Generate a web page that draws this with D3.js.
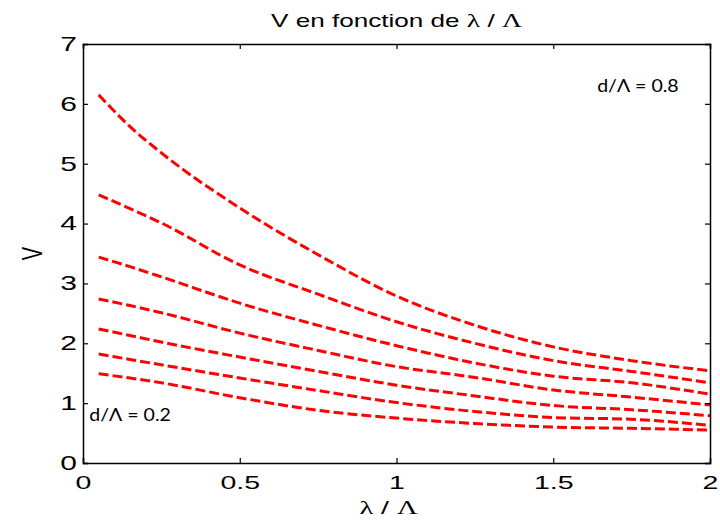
<!DOCTYPE html>
<html lang="en">
<head>
    <meta charset="UTF-8">
    <title>V en fonction de lambda / Lambda</title>
    <script src="https://cdnjs.cloudflare.com/ajax/libs/d3/7.8.5/d3.min.js"></script>
    <style>
        body { margin: 0; background: #fff; }
        svg { display: block; }
        .lbl { font-family: "Liberation Sans", Arial, sans-serif; fill: #000; }
        .greek { font-family: "Liberation Serif", "DejaVu Serif", serif; }
        .note { font-family: Lato, "Open Sans", sans-serif; fill: #000; }
    </style>
</head>
<body>
<svg width="720" height="522"></svg>

<script>
    // lambda / Lambda sample positions
    const lambdaRatio = [0.05, 0.15, 0.25, 0.5, 0.75, 1.0, 1.25, 1.5, 1.75, 2.0];

    // one curve per d/Lambda, top to bottom (0.8 ... 0.2)
    const dRatio = [0.8, 0.7, 0.6, 0.5, 0.4, 0.3, 0.2];
    const v08 = [6.15, 5.62, 5.18, 4.26, 3.48, 2.79, 2.30, 1.94, 1.71, 1.54];
    const v07 = [4.48, 4.25, 4.01, 3.31, 2.82, 2.36, 2.00, 1.71, 1.53, 1.34];
    const v06 = [3.44, 3.28, 3.11, 2.67, 2.30, 1.96, 1.67, 1.45, 1.34, 1.15];
    const v05 = [2.74, 2.63, 2.51, 2.17, 1.88, 1.61, 1.43, 1.22, 1.10, 0.97];
    const v04 = [2.24, 2.13, 2.02, 1.77, 1.53, 1.30, 1.12, 0.96, 0.89, 0.79];
    const v03 = [1.82, 1.73, 1.64, 1.42, 1.21, 1.01, 0.86, 0.76, 0.73, 0.63];
    const v02 = [1.49, 1.42, 1.34, 1.09, 0.88, 0.75, 0.66, 0.60, 0.58, 0.55];
    const curves = [v08, v07, v06, v05, v04, v03, v02];

    const xTicks = [0, 0.5, 1, 1.5, 2];
    const yTicks = [0, 1, 2, 3, 4, 5, 6, 7];

    // text labels placed in data units
    const noteTexts = ["d/\u039B = 0.8", "d/\u039B = 0.2"];
    const noteX = [1.64, 0.02];
    const noteY = [6.2, 0.7];

    const W = 720, H = 522;
    const margin = {top: 44, right: 10, bottom: 59, left: 83};
    const iw = W - margin.left - margin.right;
    const ih = H - margin.top - margin.bottom;
    const sx = 1.5; // the original text is stretched sideways

    const svg = d3.select("svg");
    const g = svg.append("g").attr("transform", `translate(${margin.left},${margin.top})`);

    const x = d3.scaleLinear().domain([0, 2]).range([0, iw]);
    const y = d3.scaleLinear().domain([0, 7]).range([ih, 0]);

    // curves
    const line = d3.line()
        .x((d, i) => x(lambdaRatio[i]))
        .y(d => y(d))
        .curve(d3.curveMonotoneX);

    g.append("g").selectAll("path")
        .data(curves)
        .enter()
        .append("path")
        .attr("d", d => line(d))
        .attr("fill", "none")
        .attr("stroke", "#ff0000")
        .attr("stroke-width", 3)
        .attr("stroke-dasharray", "10,4");

    // axes, inward ticks on all four sides
    function styleAxis(sel) {
        sel.select(".domain").attr("stroke", "#000").attr("stroke-width", 1.5);
        sel.selectAll(".tick line").attr("stroke", "#000").attr("stroke-width", 1.2);
    }

    const xAxis = g.append("g")
        .attr("transform", `translate(0,${ih})`)
        .call(d3.axisBottom(x).tickValues(xTicks).tickSize(-5).tickPadding(13)
            .tickFormat(d3.format("")));
    styleAxis(xAxis);
    xAxis.selectAll("text").attr("class", "lbl").attr("font-size", 19)
        .attr("font-family", null).attr("transform", `scale(${sx},1)`);

    const yAxis = g.append("g")
        .call(d3.axisLeft(y).tickValues(yTicks).tickSize(-5).tickPadding(4)
            .tickFormat(d3.format("")));
    styleAxis(yAxis);
    yAxis.selectAll("text").attr("class", "lbl").attr("font-size", 20)
        .attr("font-family", null).attr("transform", `scale(${sx},1)`);

    const topAxis = g.append("g")
        .call(d3.axisTop(x).tickValues(xTicks).tickSize(-5).tickFormat(""));
    styleAxis(topAxis);

    const rightAxis = g.append("g")
        .attr("transform", `translate(${iw},0)`)
        .call(d3.axisRight(y).tickValues(yTicks).tickSize(-5).tickFormat(""));
    styleAxis(rightAxis);

    // title
    const title = svg.append("text")
        .attr("class", "lbl")
        .attr("font-size", 18)
        .attr("text-anchor", "middle")
        .attr("transform", `translate(${margin.left + iw / 2},27) scale(1.45,1)`);
    title.append("tspan").text("V en fonction de ");
    title.append("tspan").attr("class", "greek").attr("font-size", 19).text("\u03BB");
    title.append("tspan").text(" / ");
    title.append("tspan").attr("class", "greek").attr("font-size", 19).text("\u039B");

    // x label
    const xl = svg.append("text")
        .attr("class", "lbl")
        .attr("font-size", 19)
        .attr("text-anchor", "middle")
        .attr("transform", `translate(${margin.left + iw / 2 - 8},514) scale(${sx},1)`);
    xl.append("tspan").attr("class", "greek").text("\u03BB");
    xl.append("tspan").text(" / ");
    xl.append("tspan").attr("class", "greek").text("\u039B");

    // y label
    svg.append("text")
        .attr("class", "lbl")
        .attr("font-size", 20)
        .attr("text-anchor", "middle")
        .attr("transform", `translate(42,${margin.top + ih / 2}) rotate(-90) scale(1,${sx})`)
        .text("V");

    // d/Lambda notes
    g.append("g").selectAll("text")
        .data(noteTexts)
        .enter()
        .append("text")
        .attr("class", "note")
        .attr("font-size", 17)
        .attr("transform", (d, i) => `translate(${x(noteX[i])},${y(noteY[i])}) scale(1.15,1)`)
        .text(d => d);
</script>
</body>
</html>
